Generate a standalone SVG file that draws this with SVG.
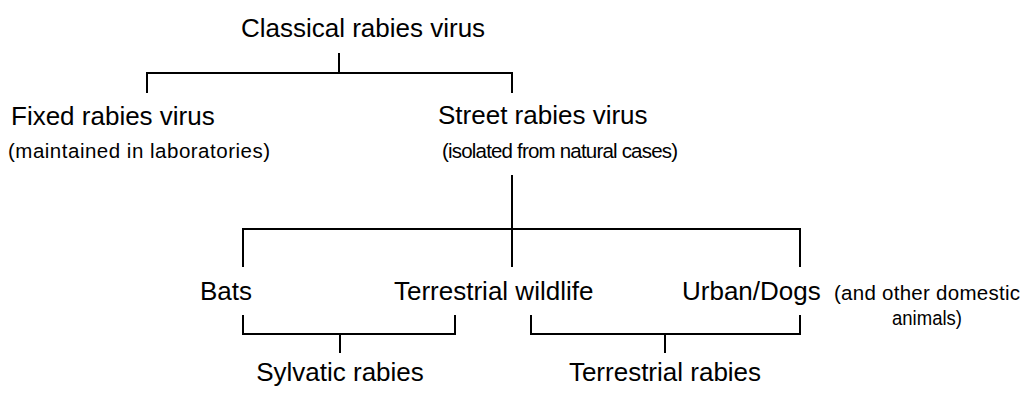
<svg xmlns="http://www.w3.org/2000/svg" width="1023" height="394" viewBox="0 0 1023 394">
<style>
text{font-family:"Liberation Sans",Arial,sans-serif;fill:#000}
.b{font-size:26px}
.s{font-size:20.5px}
.c{text-anchor:middle}
#connectors path{fill:none;stroke:#000;stroke-width:2}
</style>
<rect width="1023" height="394" fill="#fff"/>
<g id="connectors">
<path d="M339 53V73M147 93V73H512V93"/>
<path d="M512 175V267M243 267V229H800V267"/>
<path d="M243 315V334H455V315M340 334V353"/>
<path d="M531 315V334H800V315M665 334V353"/>
</g>
<g id="classical"><text class="b c" x="363" y="37">Classical rabies virus</text></g>
<g id="fixed"><text class="b" x="11" y="125">Fixed rabies virus</text><text class="s" x="8" y="158" textLength="262" lengthAdjust="spacing">(maintained in laboratories)</text></g>
<g id="street"><text class="b" x="438" y="124">Street rabies virus</text><text class="s" x="442" y="158" textLength="236" lengthAdjust="spacing">(isolated from natural cases)</text></g>
<g id="bats"><text class="b" x="200" y="300">Bats</text></g>
<g id="wildlife"><text class="b" x="394" y="300">Terrestrial wildlife</text></g>
<g id="urban"><text class="b" x="682" y="300">Urban/Dogs</text><text class="s" x="834" y="300" textLength="186" lengthAdjust="spacing">(and other domestic</text><text class="s c" x="927" y="325" textLength="70" lengthAdjust="spacingAndGlyphs">animals)</text></g>
<g id="sylvatic"><text class="b c" x="340" y="381">Sylvatic rabies</text></g>
<g id="terrestrial"><text class="b c" x="665" y="381">Terrestrial rabies</text></g>
</svg>
